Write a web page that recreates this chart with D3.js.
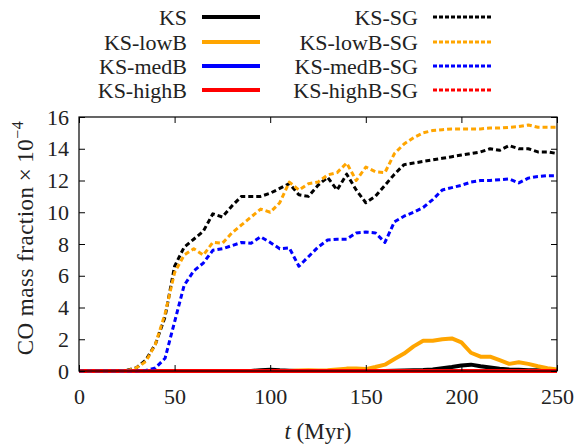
<!DOCTYPE html>
<html>
<head>
<meta charset="utf-8">
<script src="https://cdn.jsdelivr.net/npm/d3@7"></script>
<style>
  html, body { margin: 0; padding: 0; background: #fff; }
  svg { display: block; }
  svg text { font-family: "Liberation Serif", "DejaVu Serif", serif; fill: #222; }
</style>
</head>
<body>
<svg id="chart" width="576" height="446"></svg>
<script>
// Time axis (Myr), sampled every 5 Myr
const timeMyr = d3.range(0, 251, 5);

// CO mass fraction (units of 1e-4) for each run
const ksSolid = [0,0,0,0,0,0,0,0,0,0,0,0,0,0,0,0,0,0,0,
  0.05,0.08,0.04,0.02,0,0,0,0,0.02,0.03,0.02,0.01,0,0,0.02,0.03,0.04,0.06,0.1,0.18,0.25,0.35,0.4,0.3,0.22,0.15,0.1,0.08,0.05,0.04,0.03,0.02];
const ksLowB = [0,0,0,0,0,0,0,0,0,0,0,0,0,0,0,0,0,0,0,0,0,0,0,
  0.03,0.05,0.03,0.05,0.1,0.15,0.15,0.12,0.25,0.4,0.75,1.1,1.55,1.9,1.9,2.0,2.05,1.8,1.15,0.9,0.9,0.68,0.45,0.55,0.45,0.3,0.18,0.1];
const ksMedB = new Array(51).fill(0);
const ksHighB = new Array(51).fill(0);
const ksSG = [0,0,0,0,0,
  0.05,0.2,0.7,1.7,3.4,6.6,7.8,8.3,8.8,9.9,9.7,10.4,11.0,11.0,11.0,11.2,11.5,11.8,11.1,11.0,11.7,12.2,11.4,12.4,11.4,10.6,11.0,11.7,12.4,13.0,13.1,13.2,13.3,13.4,13.5,13.6,13.7,13.8,14.0,13.9,14.2,14.0,14.0,13.8,13.8,13.7];
const ksLowBSG = [0,0,0,0,0,0.02,
  0.2,0.6,1.7,3.6,6.2,7.3,7.7,7.3,8.1,8.05,8.7,9.2,9.7,10.2,10.0,10.6,11.9,11.4,11.8,11.9,12.35,12.5,13.1,12.0,12.85,12.55,12.5,13.7,14.3,14.7,15.0,15.15,15.2,15.25,15.25,15.25,15.25,15.3,15.3,15.35,15.4,15.5,15.35,15.35,15.35];
const ksMedBSG = [0,0,0,0,0,0,0,
  0.03,0.2,0.8,3.1,5.4,6.3,6.8,7.6,7.7,7.9,8.1,8.05,8.45,8.1,7.7,7.75,6.6,7.2,7.8,8.25,8.3,8.3,8.7,8.75,8.7,8.1,9.4,9.75,10.0,10.3,10.8,11.4,11.55,11.7,11.9,12.0,12.0,12.05,12.1,11.85,12.15,12.25,12.3,12.3];
const ksHighBSG = new Array(51).fill(0);

const seriesNames = ["KS", "KS-lowB", "KS-medB", "KS-highB", "KS-SG", "KS-lowB-SG", "KS-medB-SG", "KS-highB-SG"];
const seriesValues = [ksSolid, ksLowB, ksMedB, ksHighB, ksSG, ksLowBSG, ksMedBSG, ksHighBSG];
const seriesColors = ["#000000", "#FFA500", "#0000FF", "#FF0000", "#000000", "#FFA500", "#0000FF", "#FF0000"];
const seriesDashed = [false, false, false, false, true, true, true, true];

const xTicks = [0, 50, 100, 150, 200, 250];
const yTicks = [0, 2, 4, 6, 8, 10, 12, 14, 16];

const FONT = "'Liberation Serif', 'DejaVu Serif', serif";
const svg = d3.select("#chart");
const plotLeft = 79, plotRight = 557, plotTop = 117, plotBottom = 371;

const x = d3.scaleLinear().domain([0, 250]).range([plotLeft, plotRight]);
const y = d3.scaleLinear().domain([0, 16]).range([plotBottom, plotTop]);

// Series lines
const line = d3.line().x((d, i) => x(timeMyr[i])).y(d => y(d));
seriesValues.forEach((vals, k) => {
  svg.append("path")
    .datum(vals)
    .attr("d", line)
    .attr("fill", "none")
    .attr("stroke", seriesColors[k])
    .attr("stroke-width", seriesDashed[k] ? 3 : 4)
    .attr("stroke-dasharray", seriesDashed[k] ? "5,3" : null)
    .attr("stroke-linejoin", "round");
});

// Axes with inward ticks on all four sides
function styleAxis(g) {
  g.attr("font-family", FONT);
  g.select(".domain").remove();
  g.selectAll(".tick line").attr("stroke", "#000").attr("stroke-width", 1);
  g.selectAll(".tick text").attr("font-size", 22).attr("fill", "#222");
}
svg.append("g").attr("transform", `translate(0,${plotBottom})`)
  .call(d3.axisBottom(x).tickValues(xTicks).tickSize(-6).tickSizeOuter(0).tickPadding(17))
  .call(styleAxis);
svg.append("g").attr("transform", `translate(0,${plotTop})`)
  .call(d3.axisTop(x).tickValues(xTicks).tickSize(-6).tickSizeOuter(0).tickFormat(""))
  .call(styleAxis);
svg.append("g").attr("transform", `translate(${plotLeft},0)`)
  .call(d3.axisLeft(y).tickValues(yTicks).tickSize(-6).tickSizeOuter(0).tickPadding(10))
  .call(styleAxis);
svg.append("g").attr("transform", `translate(${plotRight},0)`)
  .call(d3.axisRight(y).tickValues(yTicks).tickSize(-6).tickSizeOuter(0).tickFormat(""))
  .call(styleAxis);

// Plot frame
svg.append("rect")
  .attr("x", plotLeft).attr("y", plotTop)
  .attr("width", plotRight - plotLeft).attr("height", plotBottom - plotTop)
  .attr("fill", "none").attr("stroke", "#000").attr("stroke-width", 1.2);

// Axis titles
const yTitle = svg.append("text")
  .attr("transform", "translate(33,238) rotate(-90)")
  .attr("text-anchor", "middle")
  .attr("font-family", FONT)
  .attr("font-size", 23)
  .attr("letter-spacing", 0.5);
yTitle.append("tspan").text("CO mass fraction\u2009\u00d7\u200910");
yTitle.append("tspan").attr("dy", -10).attr("font-size", 16).text("\u22124");

const xTitle = svg.append("text")
  .attr("x", 318).attr("y", 439)
  .attr("text-anchor", "middle")
  .attr("font-family", FONT)
  .attr("font-size", 23);
xTitle.append("tspan").attr("font-style", "italic").text("t");
xTitle.append("tspan").text(" (Myr)");

// Legend: two columns of four entries
const legendRows = [17, 42, 66, 90];
const legendCols = [{ textX: 187, x0: 202, x1: 260 }, { textX: 418, x0: 433, x1: 491 }];
seriesNames.forEach((name, k) => {
  const col = legendCols[Math.floor(k / 4)];
  const ry = legendRows[k % 4];
  svg.append("text")
    .attr("x", col.textX).attr("y", ry + 8)
    .attr("text-anchor", "end")
    .attr("font-family", FONT)
    .attr("font-size", 22)
    .text(name);
  svg.append("line")
    .attr("x1", col.x0).attr("x2", col.x1)
    .attr("y1", ry).attr("y2", ry)
    .attr("stroke", seriesColors[k])
    .attr("stroke-width", seriesDashed[k] ? 3 : 4)
    .attr("stroke-dasharray", seriesDashed[k] ? "4,2" : null);
});
</script>
</body>
</html>
